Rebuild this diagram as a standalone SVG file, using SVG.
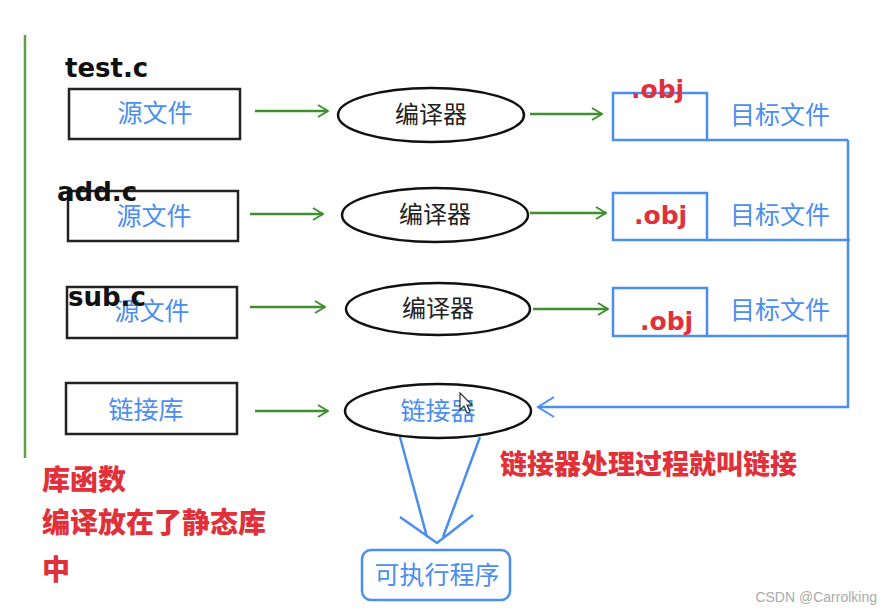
<svg xmlns="http://www.w3.org/2000/svg" width="881" height="612" viewBox="0 0 881 612">
<defs>
<marker id="ga" markerWidth="12" markerHeight="14" refX="11" refY="7" orient="auto" markerUnits="userSpaceOnUse">
<path d="M1,1 L11,7 L1,13" fill="none" stroke="#3f8f2f" stroke-width="2"/>
</marker>
<marker id="ba" markerWidth="20" markerHeight="24" refX="18" refY="12" orient="auto" markerUnits="userSpaceOnUse">
<path d="M2,2 L18,12 L2,22" fill="none" stroke="#4a8ef0" stroke-width="2"/>
</marker>
</defs>
<style>
.src{fill:#fff;stroke:#222;stroke-width:2.5}
.ell{fill:#fff;stroke:#111;stroke-width:2.5}
.obj{fill:none;stroke:#4a8ef0;stroke-width:2.5}
.g{stroke:#3f8f2f;stroke-width:2.5;fill:none}
.b{stroke:#4a8ef0;stroke-width:2.5;fill:none}
.cb{font-family:"Noto Sans CJK SC",sans-serif;font-size:25px;fill:#4a8ef0;text-anchor:middle}
.ck{font-family:"Noto Sans CJK SC",sans-serif;font-size:24px;fill:#222;text-anchor:middle}
.lbl{font-family:"DejaVu Sans",sans-serif;font-size:26px;font-weight:bold;fill:#111}
.red{font-family:"DejaVu Sans",sans-serif;font-size:25px;font-weight:bold;fill:#e0303a}
.rc{font-family:"Noto Sans CJK SC",sans-serif;font-size:27px;font-weight:900;fill:#e0303a}
.rl{font-size:28px}
</style>
<rect width="881" height="612" fill="#fff"/>
<line x1="25" y1="35" x2="25" y2="458" stroke="#5fa044" stroke-width="2.5"/>

<g id="src1"><rect class="src" x="69" y="89" width="171" height="50"/><text class="cb" x="155" y="122">源文件</text></g>
<g id="src2"><rect class="src" x="68" y="191" width="170" height="50"/><text class="cb" x="154" y="225">源文件</text></g>
<g id="src3"><rect class="src" x="67" y="287" width="170" height="51"/><text class="cb" x="152" y="320">源文件</text></g>
<g id="lib"><rect class="src" x="66" y="383" width="171" height="51"/><text class="cb" x="146" y="419">链接库</text></g>

<g id="lbl-test"><text class="lbl" x="65" y="77">test.c</text></g>
<g id="lbl-add"><text class="lbl" x="57" y="201">add.c</text></g>
<g id="lbl-sub"><text class="lbl" x="68" y="306">sub.c</text></g>

<g id="comp1"><ellipse class="ell" cx="431" cy="115" rx="93" ry="27"/><text class="ck" x="431" y="123">编译器</text></g>
<g id="comp2"><ellipse class="ell" cx="435" cy="215" rx="93" ry="27"/><text class="ck" x="435" y="223">编译器</text></g>
<g id="comp3"><ellipse class="ell" cx="438" cy="309" rx="92" ry="26"/><text class="ck" x="438" y="317">编译器</text></g>
<g id="linker"><ellipse class="ell" cx="438" cy="411" rx="93" ry="27"/><text class="cb" x="438" y="420">链接器</text>
<path d="M460,393 L460,410 L464,406 L467,413 L470,412 L467,405 L472,405 Z" fill="#fff" stroke="#333" stroke-width="1.2"/></g>

<g id="obj1"><rect class="obj" x="613" y="93" width="94" height="47"/><text class="red" x="631" y="98">.obj</text><text class="cb" x="780" y="124">目标文件</text></g>
<g id="obj2"><rect class="obj" x="613" y="193" width="94" height="47"/><text class="red" x="634" y="224">.obj</text><text class="cb" x="780" y="224">目标文件</text></g>
<g id="obj3"><rect class="obj" x="613" y="288" width="94" height="48"/><text class="red" x="640" y="330">.obj</text><text class="cb" x="780" y="319">目标文件</text></g>

<g id="exe"><rect class="obj" x="362" y="550" width="148" height="50" rx="9"/><text class="cb" x="437" y="584">可执行程序</text></g>

<g id="connectors">
<line class="g" x1="255" y1="111" x2="328" y2="111" marker-end="url(#ga)"/>
<line class="g" x1="250" y1="214" x2="323" y2="214" marker-end="url(#ga)"/>
<line class="g" x1="250" y1="307" x2="325" y2="307" marker-end="url(#ga)"/>
<line class="g" x1="255" y1="411" x2="328" y2="411" marker-end="url(#ga)"/>
<line class="g" x1="530" y1="114" x2="602" y2="114" marker-end="url(#ga)"/>
<line class="g" x1="530" y1="213" x2="606" y2="213" marker-end="url(#ga)"/>
<line class="g" x1="533" y1="309" x2="608" y2="309" marker-end="url(#ga)"/>
<path class="b" d="M707,140 H848 M707,240 H850 M707,336 H848 M848,140 V407 H538" marker-end="url(#ba)"/>
<path class="b" d="M400,437 L427,537 M480,437 L443,537 M400,517 L437,543 L473,515"/>
</g>

<g id="notes">
<text class="rc" x="500" y="474">链接器处理过程就叫链接</text>
<text class="rc rl" x="42" y="490">库函数</text>
<text class="rc rl" x="42" y="533">编译放在了静态库</text>
<text class="rc rl" x="42" y="580">中</text>
</g>
<text x="877" y="602" font-family="Liberation Sans,Arial,sans-serif" font-size="14" fill="#aaa" text-anchor="end">CSDN @Carrolking</text>
</svg>
